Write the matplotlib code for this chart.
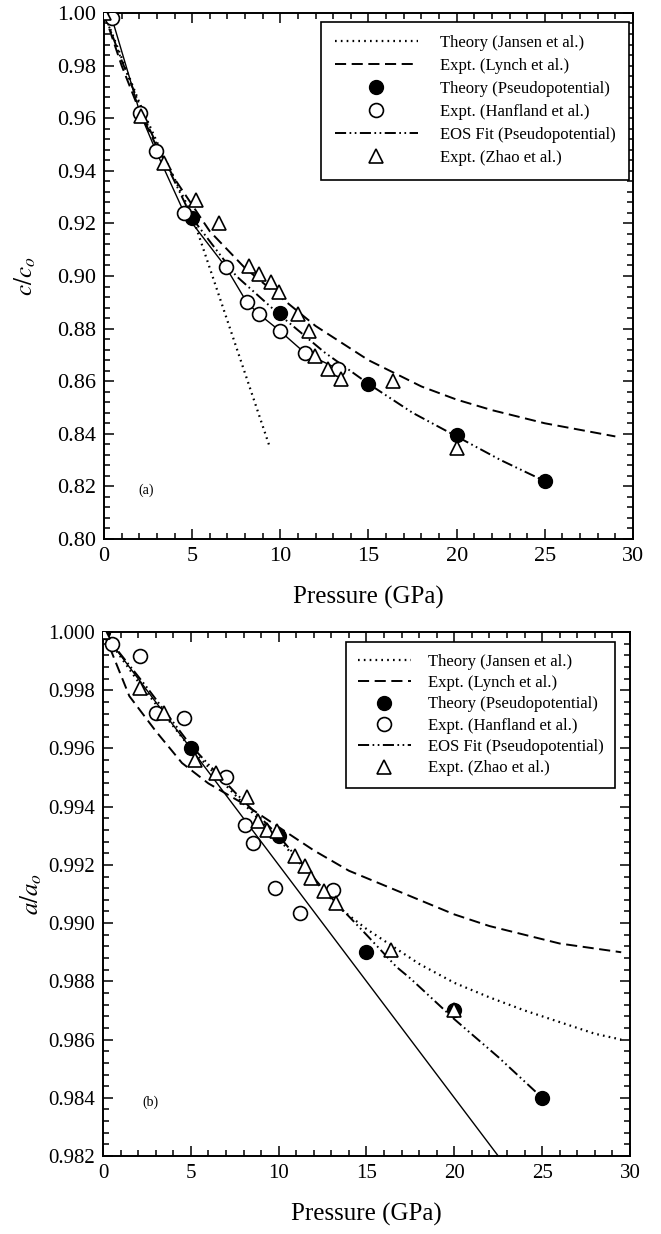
import matplotlib
matplotlib.use("Agg")
import matplotlib.pyplot as plt
from matplotlib.lines import Line2D
from matplotlib.ticker import MultipleLocator, FormatStrFormatter

plt.rcParams['font.family'] = ['Liberation Serif', 'DejaVu Serif']
plt.rcParams['mathtext.fontset'] = 'stix'
plt.rcParams['lines.scale_dashes'] = False

# ---------------- (a) c/c0 versus pressure ----------------
top_jansen_p = [0.0, 1.0, 2.0, 3.0, 4.0, 5.0, 6.0, 7.0, 8.0, 9.0, 9.4]
top_jansen_v = [1.000, 0.983, 0.966, 0.951, 0.937, 0.923, 0.903, 0.883, 0.863, 0.843, 0.835]

top_lynch_p = [0.0, 1.0, 2.0, 3.0, 4.0, 6.0, 8.0, 10.0, 12.0, 15.0, 18.0, 20.0, 22.0, 25.0, 29.0]
top_lynch_v = [1.000, 0.980, 0.963, 0.949, 0.937, 0.917, 0.903, 0.892, 0.881, 0.868, 0.858, 0.853, 0.849, 0.844, 0.839]

top_eos_p = [0.0, 1.0, 2.5, 5.0, 7.5, 10.0, 12.5, 15.0, 17.5, 20.0, 22.5, 25.0]
top_eos_v = [1.000, 0.982, 0.957, 0.922, 0.900, 0.885, 0.871, 0.859, 0.848, 0.839, 0.830, 0.822]

top_theory_p = [0.0, 5.0, 10.0, 15.0, 20.0, 25.0]
top_theory_v = [1.000, 0.922, 0.886, 0.859, 0.8395, 0.822]

top_hanfland_p = [0.45, 2.04, 2.95, 4.55, 6.9, 8.1, 8.77, 9.96, 11.4, 13.3]
top_hanfland_v = [0.998, 0.962, 0.9475, 0.924, 0.9035, 0.890, 0.8856, 0.8792, 0.8707, 0.8646]

top_zhao_p = [0.0, 2.1, 3.4, 5.2, 6.5, 8.25, 8.8, 9.5, 9.9, 11.0, 11.64, 11.94, 12.7, 13.46, 16.4, 20.0]
top_zhao_v = [1.000, 0.961, 0.943, 0.929, 0.920, 0.9038, 0.9008, 0.8978, 0.894, 0.8855, 0.879,
              0.8697, 0.8646, 0.8608, 0.860, 0.8346]

# ---------------- (b) a/a0 versus pressure ----------------
bot_jansen_p = [0.0, 2.0, 5.0, 8.0, 10.0, 12.0, 13.5, 15.0, 16.5, 18.0, 20.0, 22.0, 24.0, 26.0, 28.0, 29.5]
bot_jansen_v = [1.0000, 0.9983, 0.9960, 0.9941, 0.9929, 0.9915, 0.9905, 0.9898, 0.9892, 0.9886,
                0.98795, 0.98745, 0.9870, 0.9866, 0.9862, 0.9860]

bot_lynch_p = [0.0, 0.5, 1.5, 3.0, 4.5, 6.0, 8.0, 10.0, 12.0, 14.0, 16.0, 18.0, 20.0, 22.0, 24.0, 26.0, 29.5]
bot_lynch_v = [1.0000, 0.9993, 0.9978, 0.9966, 0.9955, 0.9948, 0.9941, 0.9933, 0.9925, 0.9918,
               0.9913, 0.9908, 0.9903, 0.9899, 0.9896, 0.9893, 0.9890]

bot_eos_p = [0.0, 2.5, 5.0, 7.5, 10.0, 12.5, 13.65, 15.0, 16.7, 17.5, 20.0, 22.5, 25.0]
bot_eos_v = [1.0000, 0.9981, 0.9961, 0.9945, 0.9930, 0.9912, 0.99045, 0.9896, 0.9885, 0.9881,
             0.9867, 0.9854, 0.9840]

bot_linear_p = [0.0, 22.5]
bot_linear_v = [1.000, 0.982]

bot_theory_p = [0.0, 5.0, 10.0, 15.0, 20.0, 25.0]
bot_theory_v = [1.000, 0.996, 0.993, 0.989, 0.987, 0.984]

bot_hanfland_p = [0.49, 2.1, 3.0, 4.63, 7.0, 8.07, 8.56, 9.79, 11.21, 13.08]
bot_hanfland_v = [0.99959, 0.99918, 0.99721, 0.99704, 0.99502, 0.99338, 0.99276, 0.9912, 0.99034, 0.99114]

bot_zhao_p = [0.0, 2.1, 3.45, 5.25, 6.42, 8.2, 8.8, 9.35, 9.9, 10.95, 11.5, 11.86, 12.6, 13.28, 16.4, 20.0]
bot_zhao_v = [1.0000, 0.99807, 0.99721, 0.9956, 0.99516, 0.99434, 0.99352, 0.9932, 0.99318, 0.9923,
              0.99197, 0.99156, 0.9911, 0.9907, 0.98907, 0.98700]

labels = ["Theory (Jansen et al.)", "Expt. (Lynch et al.)", "Theory (Pseudopotential)",
          "Expt. (Hanfland et al.)", "EOS Fit (Pseudopotential)", "Expt. (Zhao et al.)"]

DOTTED = (0, (1.2, 3.0))
DASHED = (0, (8, 4))
DASHDOTDOT = (0, (8, 2.5, 1.2, 2.5, 1.2, 2.5))
MS = 10


def style_axes(ax, ymin, ymax, ymajor, yminor, fmt, tick_fs):
    ax.set_xlim(0, 30)
    ax.set_ylim(ymin, ymax)
    ax.xaxis.set_major_locator(MultipleLocator(5))
    ax.xaxis.set_minor_locator(MultipleLocator(1))
    ax.yaxis.set_major_locator(MultipleLocator(ymajor))
    ax.yaxis.set_minor_locator(MultipleLocator(yminor))
    ax.yaxis.set_major_formatter(FormatStrFormatter(fmt))
    ax.tick_params(which='both', direction='in', top=True, right=True, width=1.1)
    ax.tick_params(which='major', length=7, labelsize=tick_fs, pad=6)
    ax.tick_params(which='minor', length=4)
    for s in ax.spines.values():
        s.set_linewidth(1.4)
    ax.set_xlabel("Pressure (GPa)", fontsize=18)


def draw_points(ax, tp, tv, hp, hv, zp, zv):
    ax.plot(tp, tv, 'o', ms=MS, mfc='black', mec='black', zorder=4)
    ax.plot(hp, hv, 'o', ms=MS, mfc='white', mec='black', mew=1.2, zorder=5)
    ax.plot(zp, zv, '^', ms=MS, mfc='white', mec='black', mew=1.2, zorder=6)


def legend_handles(dotted_lw):
    return [
        Line2D([], [], color='black', lw=dotted_lw, linestyle=DOTTED),
        Line2D([], [], color='black', lw=1.4, linestyle=DASHED),
        Line2D([], [], ls='none', marker='o', ms=MS, mfc='black', mec='black'),
        Line2D([], [], ls='none', marker='o', ms=MS, mfc='white', mec='black', mew=1.2),
        Line2D([], [], color='black', lw=1.4, linestyle=DASHDOTDOT),
        Line2D([], [], ls='none', marker='^', ms=MS, mfc='white', mec='black', mew=1.2),
    ]


fig = plt.figure(figsize=(6.61, 12.34), dpi=100)

# panel (a)
ax1 = fig.add_axes([0.1573, 0.5632, 0.8003, 0.4263])
ax1.plot(top_jansen_p, top_jansen_v, color='black', lw=1.6, linestyle=DOTTED, zorder=2)
ax1.plot(top_lynch_p, top_lynch_v, color='black', lw=1.4, linestyle=DASHED, zorder=2)
ax1.plot(top_eos_p, top_eos_v, color='black', lw=1.4, linestyle=DASHDOTDOT, zorder=2)
ax1.plot([0.0] + top_hanfland_p, [1.0] + top_hanfland_v, color='black', lw=1.0, zorder=2)
draw_points(ax1, top_theory_p, top_theory_v, top_hanfland_p, top_hanfland_v, top_zhao_p, top_zhao_v)
style_axes(ax1, 0.80, 1.00, 0.02, 0.004, '%.2f', 16)
ax1.set_ylabel(r'$c/c_o$', fontsize=18)
ax1.yaxis.set_label_coords(-0.125, 0.5)
ax1.xaxis.set_label_coords(0.5, -0.112)
ax1.xaxis.label.set_va('center')
ax1.text(2.4, 0.8187, "(a)", fontsize=10, ha='center', va='center')
leg1 = ax1.legend(legend_handles(1.6), labels, loc='upper right', bbox_to_anchor=(0.992, 0.983),
                  fontsize=12, handlelength=5.0, handletextpad=1.3, labelspacing=0.42,
                  borderpad=0.8, borderaxespad=0, fancybox=False, edgecolor='black', framealpha=1)
leg1.get_frame().set_linewidth(1.2)

# panel (b)
ax2 = fig.add_axes([0.1558, 0.0632, 0.7973, 0.4246])
ax2.plot(bot_jansen_p, bot_jansen_v, color='black', lw=1.6, linestyle=DOTTED, zorder=2)
ax2.plot(bot_lynch_p, bot_lynch_v, color='black', lw=1.4, linestyle=DASHED, zorder=2)
ax2.plot(bot_eos_p, bot_eos_v, color='black', lw=1.4, linestyle=DASHDOTDOT, zorder=2)
ax2.plot(bot_linear_p, bot_linear_v, color='black', lw=1.0, zorder=2)
draw_points(ax2, bot_theory_p, bot_theory_v, bot_hanfland_p, bot_hanfland_v, bot_zhao_p, bot_zhao_v)
style_axes(ax2, 0.982, 1.000, 0.002, 0.0004, '%.3f', 15)
ax2.set_ylabel(r'$a/a_o$', fontsize=18)
ax2.yaxis.set_label_coords(-0.112, 0.5)
ax2.xaxis.set_label_coords(0.5, -0.112)
ax2.xaxis.label.set_va('center')
ax2.text(2.7, 0.98383, "(b)", fontsize=10, ha='center', va='center')
leg2 = ax2.legend(legend_handles(1.6), labels, loc='upper right', bbox_to_anchor=(0.9715, 0.981),
                  fontsize=12, handlelength=3.2, handletextpad=1.0, labelspacing=0.32,
                  borderpad=0.7, borderaxespad=0, fancybox=False, edgecolor='black', framealpha=1)
leg2.get_frame().set_linewidth(1.2)

fig.savefig("out.png", dpi=100)
